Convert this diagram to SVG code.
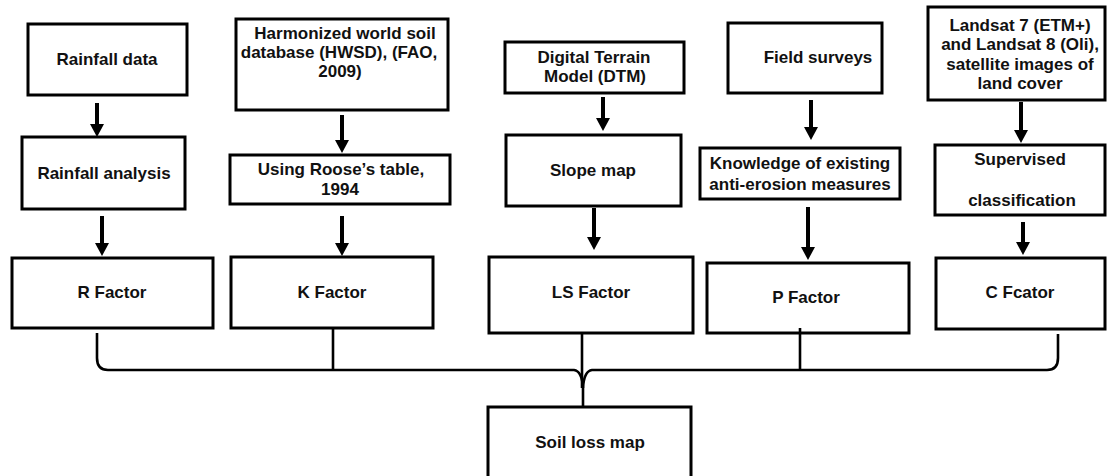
<svg xmlns="http://www.w3.org/2000/svg" width="1107" height="476" viewBox="0 0 1107 476">
<style>
.box{fill:#fff;stroke:#000;stroke-width:3}
.t{font-family:"Liberation Sans",Arial,sans-serif;font-weight:bold;font-size:17px;fill:#111;text-anchor:middle}
.arr{stroke:#000;stroke-width:4;fill:none}
.con{stroke:#000;stroke-width:2.6;fill:none}
</style>
<defs>
<polygon id="head" points="-7,0 7,0 0,13" fill="#000"/>
</defs>
<rect width="1107" height="476" fill="#fff"/>
<g id="n-rainfall-data"><rect class="box" x="28" y="24" width="159" height="71"/><text class="t" x="107" y="65">Rainfall data</text></g>
<g id="n-hwsd"><rect class="box" x="236" y="19" width="212" height="91"/><text class="t"><tspan x="345" y="39">Harmonized world soil</tspan><tspan x="339" y="58">database (HWSD), (FAO,</tspan><tspan x="340" y="77">2009)</tspan></text></g>
<g id="n-dtm"><rect class="box" x="505" y="42" width="179" height="51"/><text class="t"><tspan x="594" y="63">Digital Terrain</tspan><tspan x="595" y="82">Model (DTM)</tspan></text></g>
<g id="n-field"><rect class="box" x="728" y="23" width="154" height="70"/><text class="t" x="818" y="63">Field surveys</text></g>
<g id="n-landsat"><rect class="box" x="928" y="7" width="177" height="93"/><text class="t"><tspan x="1020" y="30.5">Landsat 7 (ETM+)</tspan><tspan x="1020" y="50">and Landsat 8 (Oli),</tspan><tspan x="1020" y="69.5">satellite images of</tspan><tspan x="1020" y="89">land cover</tspan></text></g>
<g id="n-rain-analysis"><rect class="box" x="22" y="137" width="163" height="72"/><text class="t" x="104" y="179">Rainfall analysis</text></g>
<g id="n-roose"><rect class="box" x="230" y="155" width="220" height="49"/><text class="t"><tspan x="341" y="175">Using Roose’s table,</tspan><tspan x="340" y="195">1994</tspan></text></g>
<g id="n-slope"><rect class="box" x="506" y="135" width="175" height="71"/><text class="t" x="593" y="176">Slope map</text></g>
<g id="n-knowledge"><rect class="box" x="700" y="148" width="200" height="51"/><text class="t"><tspan x="800" y="169">Knowledge of existing</tspan><tspan x="800" y="190">anti-erosion measures</tspan></text></g>
<g id="n-supervised"><rect class="box" x="935" y="145" width="170" height="70"/><text class="t"><tspan x="1020" y="165">Supervised</tspan><tspan x="1022" y="206">classification</tspan></text></g>
<g id="n-r"><rect class="box" x="12" y="258" width="201" height="70"/><text class="t" x="112" y="298">R Factor</text></g>
<g id="n-k"><rect class="box" x="231" y="257" width="202" height="71"/><text class="t" x="332" y="298">K Factor</text></g>
<g id="n-ls"><rect class="box" x="489" y="257" width="204" height="76"/><text class="t" x="591" y="298">LS Factor</text></g>
<g id="n-p"><rect class="box" x="707" y="263" width="202" height="70"/><text class="t" x="806" y="303">P Factor</text></g>
<g id="n-c"><rect class="box" x="936" y="258" width="169" height="71"/><text class="t" x="1020" y="298">C Fcator</text></g>
<g id="n-soil"><rect class="box" x="488" y="407" width="203" height="75"/><text class="t" x="590" y="448">Soil loss map</text></g>
<g id="connectors">
<line class="arr" x1="97" y1="103" x2="97" y2="126"/><use href="#head" x="97" y="124"/>
<line class="arr" x1="102" y1="216" x2="102" y2="245"/><use href="#head" x="102" y="243"/>
<line class="arr" x1="342" y1="115" x2="342" y2="142"/><use href="#head" x="342" y="140"/>
<line class="arr" x1="342" y1="216" x2="342" y2="245"/><use href="#head" x="342" y="243"/>
<line class="arr" x1="603" y1="97" x2="603" y2="120"/><use href="#head" x="603" y="118"/>
<line class="arr" x1="594" y1="208" x2="594" y2="239"/><use href="#head" x="594" y="237"/>
<line class="arr" x1="811" y1="100" x2="811" y2="129"/><use href="#head" x="811" y="127"/>
<line class="arr" x1="808" y1="207" x2="808" y2="249"/><use href="#head" x="808" y="247"/>
<line class="arr" x1="1021" y1="102" x2="1021" y2="132"/><use href="#head" x="1021" y="130"/>
<line class="arr" x1="1023" y1="222" x2="1023" y2="244"/><use href="#head" x="1023" y="242"/>
<path class="con" d="M97,333 L97,358 Q97,370 108,370 L574,370 Q582,371 583,388 L583,407"/>
<path class="con" d="M1058,334 L1058,358 Q1058,370 1047,370 L592,370 Q584,371 583,388"/>
<line class="con" x1="333" y1="328" x2="333" y2="370"/>
<line class="con" x1="582" y1="333" x2="582" y2="388"/>
<line class="con" x1="800" y1="328" x2="800" y2="370"/>
</g>
</svg>
